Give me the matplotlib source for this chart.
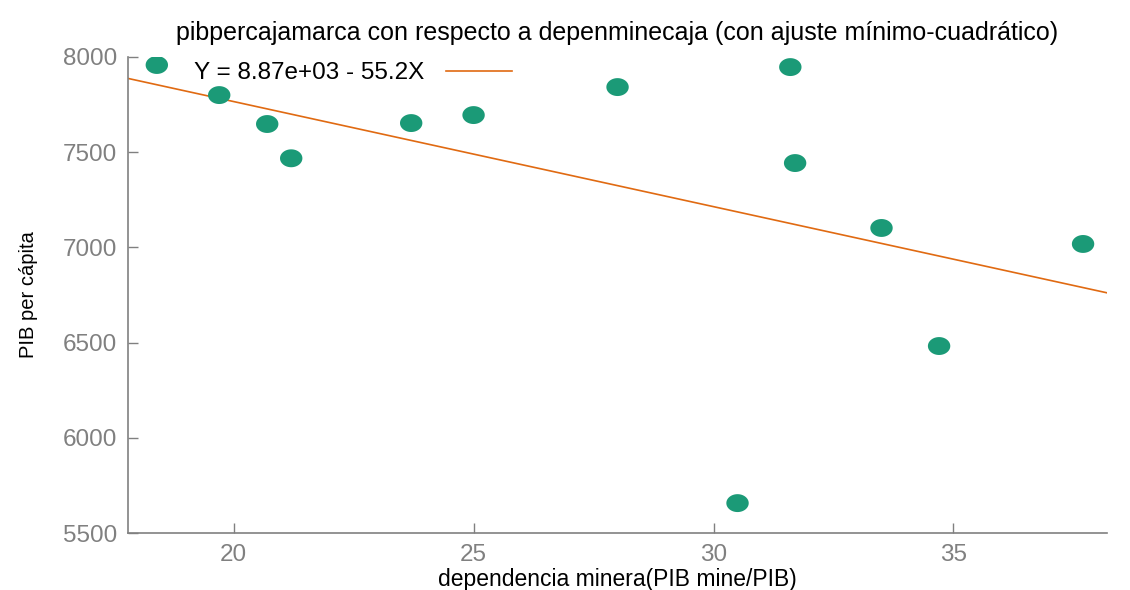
import numpy as np
import matplotlib
matplotlib.use("Agg")
import matplotlib.pyplot as plt
from matplotlib.path import Path

# Observations: mining dependence (%) vs. GDP per capita
dependencia = [18.4, 19.7, 20.7, 21.2, 23.7, 25.0, 28.0, 31.6, 31.7, 33.5, 34.7, 30.5, 37.7]
pib_percapita = [7958, 7800, 7648, 7468, 7653, 7695, 7842, 7947, 7443, 7102, 6482, 5657, 7018]

# OLS fit coefficients as reported
intercepto = 8.87e3
pendiente = -55.2

x_range = (17.8, 38.2)
y_range = (5500, 8000)
x_ticks = [20, 25, 30, 35]
y_ticks = [5500, 6000, 6500, 7000, 7500, 8000]

titulo = "pibpercajamarca con respecto a depenminecaja (con ajuste mínimo-cuadrático)"
xlabel = "dependencia minera(PIB mine/PIB)"
ylabel = "PIB per cápita"
leyenda = "Y = 8.87e+03 - 55.2X"

plt.rcParams["font.family"] = ["Liberation Sans", "DejaVu Sans"]

green = "#1b9a77"
orange = "#e06a12"
gray = "#808080"

# slightly wide elliptical marker
t = np.linspace(0, 2 * np.pi, 60)
ellipse = Path(np.column_stack([1.25 * np.cos(t), np.sin(t)]), closed=True)

fig = plt.figure(figsize=(11.3, 5.9), dpi=100)
ax = fig.add_axes([0.1133, 0.0966, 0.8664, 0.8068])

xs = np.array(x_range)
ax.plot(xs, intercepto + pendiente * xs, color=orange, lw=1.2, label=leyenda, zorder=2)
ax.scatter(dependencia, pib_percapita, s=260, marker=ellipse, color=green,
           edgecolors="none", zorder=3)

ax.set_xlim(*x_range)
ax.set_ylim(*y_range)
ax.set_xticks(x_ticks)
ax.set_yticks(y_ticks)

for side in ("top", "right"):
    ax.spines[side].set_visible(False)
for side in ("left", "bottom"):
    ax.spines[side].set_color(gray)
    ax.spines[side].set_linewidth(1.2)

ax.tick_params(direction="in", length=7, width=1, color=gray,
               labelcolor=gray, labelsize=17.5, pad=8)
ax.tick_params(axis="x", pad=8)

ax.set_title(titulo, fontsize=18, pad=12)
ax.set_xlabel(xlabel, fontsize=16.5, labelpad=1)
ax.set_ylabel(ylabel, fontsize=14.5, labelpad=18)

ax.legend(loc="upper left", frameon=False, markerfirst=False, fontsize=17.5,
          handlelength=2.7, bbox_to_anchor=(0.045, 1.035), handletextpad=0.9)

fig.savefig("out.png", dpi=100)
